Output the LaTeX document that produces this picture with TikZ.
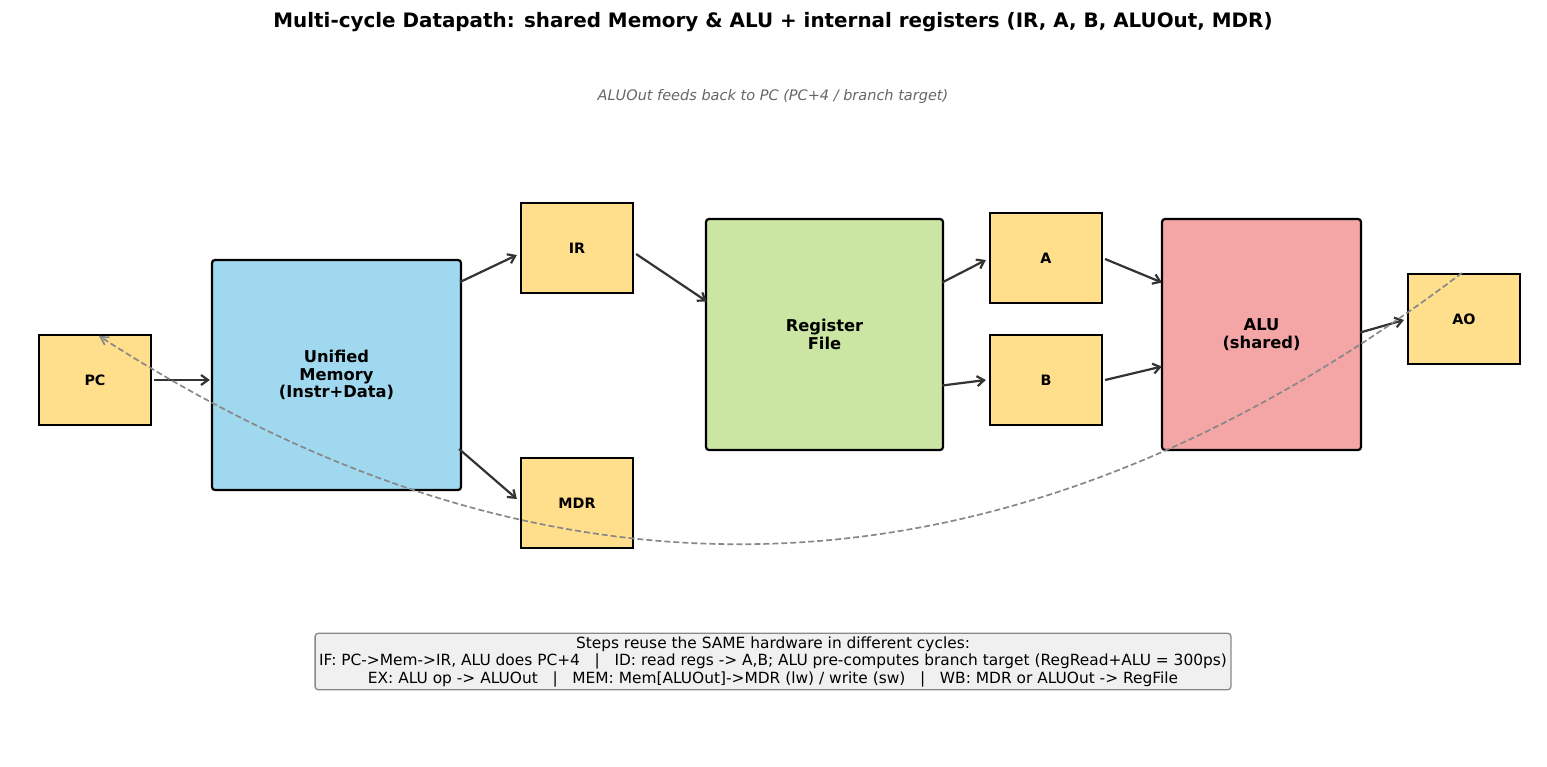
\documentclass[tikz,border=0pt]{standalone}
\usepackage{fontspec}
\setmainfont{DejaVu Sans}
\usetikzlibrary{arrows.meta,calc}
\definecolor{regY}{HTML}{FFDF8C}
\definecolor{memB}{HTML}{A0D8EF}
\definecolor{rfG}{HTML}{CBE6A3}
\definecolor{aluR}{HTML}{F4A6A6}
\definecolor{arrG}{HTML}{333333}
\definecolor{dashG}{HTML}{888888}
\definecolor{noteF}{HTML}{F0F0F0}
\tikzset{
  reg/.style={draw=black,line width=2.2pt,fill=regY,minimum width=112pt,minimum height=90pt,inner sep=0pt,font=\fontsize{14.3}{16}\selectfont\bfseries},
  big/.style={draw=black,line width=2.2pt,rounded corners=3pt,inner sep=0pt,align=center,font=\fontsize{16.3}{17.5}\selectfont\bfseries},
  arr/.style={draw=arrG,line width=2.2pt,-{Straight Barb[length=7pt,width=10pt,line width=2.2pt]}},
  fb/.style={draw=dashG,line width=1.7pt,dash pattern=on 6pt off 3pt,-{Straight Barb[length=8pt,width=9pt,line width=1.7pt]}},
}
\begin{document}
\begin{tikzpicture}[x=1pt,y=-1pt]
\useasboundingbox (0,0) rectangle (1547,766);
\node (title) at (773,22) {\fontsize{19.9}{22}\selectfont\bfseries Multi-cycle Datapath: shared Memory \& ALU + internal registers (IR, A, B, ALUOut, MDR)};
\node[text=black!60] (sub) at (773,96) {\fontsize{14.5}{16}\selectfont\itshape ALUOut feeds back to PC (PC+4 / branch target)};

\node[reg] (pc) at (95,380) {PC};
\node[big,fill=memB,minimum width=249pt,minimum height=230pt] (mem) at (336.5,375) {Unified\\Memory\\(Instr+Data)};
\node[reg] (ir) at (577,248) {IR};
\node[reg] (mdr) at (577,503) {MDR};
\node[big,fill=rfG,minimum width=237pt,minimum height=231pt] (rf) at (824.5,334.5) {Register\\File};
\node[reg] (a) at (1046,258) {A};
\node[reg] (b) at (1046,380) {B};
\node[big,fill=aluR,minimum width=199pt,minimum height=231pt] (alu) at (1261.5,334.5) {ALU\\(shared)};
\node[reg] (ao) at (1464,319) {AO};

\draw[arr] ($(pc.east)+(2,0)$) -- ($(mem.west)+(-1,5)$);
\draw[arr] ($(mem.east)+(-2,-93)$) -- ($(ir.west)+(-3,7)$);
\draw[arr] ($(mem.east)+(-3,74)$) -- ($(mdr.west)+(-3,-4)$);
\draw[arr] ($(ir.east)+(2,6)$) -- ($(rf.west)+(2,-33)$);
\draw[arr] ($(rf.east)+(-2,-52)$) -- ($(a.west)+(-3,2)$);
\draw[arr] ($(rf.east)+(-2,51)$) -- ($(b.west)+(-3,0)$);
\draw[arr] ($(a.east)+(2,1)$) -- ($(alu.west)+(1,-52)$);
\draw[arr] ($(b.east)+(2,0)$) -- ($(alu.west)+(1,32)$);
\draw[arr] ($(alu.east)+(-2,-2)$) -- ($(ao.west)+(-3,1)$);

\draw[fb] ($(ao.north)+(-2,0)$) .. controls (1014,612) and (559,633) .. ($(pc.north)+(4,2)$);

\node[draw=dashG,line width=1.3pt,fill=noteF,rounded corners=3pt,align=center,inner xsep=4pt,inner ysep=3pt,font=\fontsize{15.4}{17.5}\selectfont] (note) at (773,661.5) {Steps reuse the SAME hardware in different cycles:\\IF: PC->Mem->IR, ALU does PC+4 \ \ | \ \ ID: read regs -> A,B; ALU pre-computes branch target (RegRead+ALU = 300ps)\\EX: ALU op -> ALUOut \ \ | \ \ MEM: Mem[ALUOut]->MDR (lw) / write (sw) \ \ | \ \ WB: MDR or ALUOut -> RegFile};
\end{tikzpicture}
\end{document}
